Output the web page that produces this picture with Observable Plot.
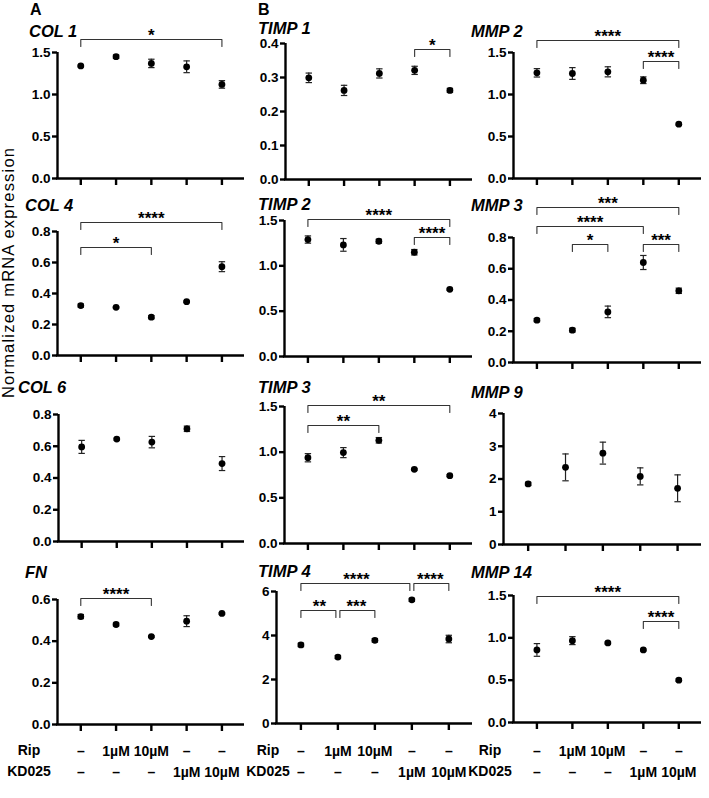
<!DOCTYPE html>
<html>
<head>
<meta charset="utf-8">
<script src="https://cdn.jsdelivr.net/npm/d3@7"></script>
<script src="https://cdn.jsdelivr.net/npm/@observablehq/plot@0.6"></script>
<style>
  html, body { margin: 0; padding: 0; background: #fff; }
  #fig { position: relative; width: 709px; height: 798px; background: #fff; overflow: hidden; }
  #fig svg { position: absolute; overflow: visible; }
  #fig svg.panel text { font-weight: bold; fill: #000; }
</style>
</head>
<body>
<div id="fig"></div>
<script>
// ---------------- DATA ----------------
const conditions = ["Vehicle", "Rip 1µM", "Rip 10µM", "KD025 1µM", "KD025 10µM"];
const ripLabels = ["–", "1µM", "10µM", "–", "–"];
const kdLabels  = ["–", "–", "–", "1µM", "10µM"];

const meanCOL1 = [1.34, 1.45, 1.37, 1.33, 1.12];
const errCOL1  = [0.01, 0.02, 0.05, 0.07, 0.045];
const ticksCOL1 = ["0.0", "0.5", "1.0", "1.5"];
const sigCOL1 = [[0, 4, "*"]];

const meanCOL4 = [0.322, 0.311, 0.247, 0.347, 0.573];
const errCOL4  = [0.01, 0.005, 0.01, 0.005, 0.032];
const ticksCOL4 = ["0.0", "0.2", "0.4", "0.6", "0.8"];
const sigCOL4 = [[0, 4, "****"], [0, 2, "*"]];

const meanCOL6 = [0.596, 0.645, 0.626, 0.71, 0.491];
const errCOL6  = [0.041, 0.006, 0.036, 0.017, 0.044];
const ticksCOL6 = ["0.0", "0.2", "0.4", "0.6", "0.8"];
const sigCOL6 = [];

const meanFN = [0.518, 0.48, 0.422, 0.496, 0.533];
const errFN  = [0.01, 0.007, 0.004, 0.026, 0.004];
const ticksFN = ["0.0", "0.2", "0.4", "0.6"];
const sigFN = [[0, 2, "****"]];

const meanTIMP1 = [0.299, 0.262, 0.312, 0.321, 0.262];
const errTIMP1  = [0.014, 0.015, 0.0135, 0.012, 0.006];
const ticksTIMP1 = ["0.0", "0.1", "0.2", "0.3", "0.4"];
const sigTIMP1 = [[3, 4, "*"]];

const meanTIMP2 = [1.29, 1.231, 1.271, 1.15, 0.741];
const errTIMP2  = [0.04, 0.07, 0.022, 0.03, 0.012];
const ticksTIMP2 = ["0.0", "0.5", "1.0", "1.5"];
const sigTIMP2 = [[0, 4, "****"], [3, 4, "****"]];

const meanTIMP3 = [0.939, 0.995, 1.13, 0.812, 0.743];
const errTIMP3  = [0.045, 0.055, 0.03, 0.01, 0.01];
const ticksTIMP3 = ["0.0", "0.5", "1.0", "1.5"];
const sigTIMP3 = [[0, 4, "**"], [0, 2, "**"]];

const meanTIMP4 = [3.57, 3.02, 3.78, 5.62, 3.84];
const errTIMP4  = [0.08, 0.07, 0.08, 0.07, 0.17];
const ticksTIMP4 = ["0", "2", "4", "6"];
const sigTIMP4 = [[0, 3, "****"], [3, 4, "****"], [0, 1, "**"], [1, 2, "***"]];

const meanMMP2 = [1.258, 1.25, 1.27, 1.17, 0.647];
const errMMP2  = [0.05, 0.07, 0.06, 0.04, 0.012];
const ticksMMP2 = ["0.0", "0.5", "1.0", "1.5"];
const sigMMP2 = [[0, 4, "****"], [3, 4, "****"]];

const meanMMP3 = [0.271, 0.207, 0.324, 0.64, 0.459];
const errMMP3  = [0.01, 0.012, 0.037, 0.045, 0.017];
const ticksMMP3 = ["0.0", "0.2", "0.4", "0.6", "0.8"];
const sigMMP3 = [[0, 4, "***"], [0, 3, "****"], [1, 2, "*"], [3, 4, "***"]];

const meanMMP9 = [1.85, 2.355, 2.79, 2.08, 1.716];
const errMMP9  = [0.05, 0.41, 0.335, 0.26, 0.41];
const ticksMMP9 = ["0", "1", "2", "3", "4"];
const sigMMP9 = [];

const meanMMP14 = [0.857, 0.967, 0.94, 0.857, 0.5];
const errMMP14  = [0.075, 0.047, 0.012, 0.01, 0.015];
const ticksMMP14 = ["0.0", "0.5", "1.0", "1.5"];
const sigMMP14 = [[0, 4, "****"], [3, 4, "****"]];

// ---------------- LAYOUT ----------------
const FONT = "'Liberation Sans', Arial, Helvetica, sans-serif";
const XMIN = -0.66, XMAX = 4.64;
const colRight = [244, 472, 701];
const ripBaseline = 755, kdBaseline = 776;

const panels = [
  {gene: "COL 1",  mean: meanCOL1,  err: errCOL1,  ticks: ticksCOL1,  sig: sigCOL1,  col: 0, ax: 57,  top: 52,  bottom: 178, title: [29, 37],  br: [39], bottomRow: false},
  {gene: "TIMP 1", mean: meanTIMP1, err: errTIMP1, ticks: ticksTIMP1, sig: sigTIMP1, col: 1, ax: 285, top: 43,  bottom: 179, title: [258, 34], br: [49], bottomRow: false},
  {gene: "MMP 2",  mean: meanMMP2,  err: errMMP2,  ticks: ticksMMP2,  sig: sigMMP2,  col: 2, ax: 513, top: 52,  bottom: 178, title: [471, 37], br: [40, 61], bottomRow: false},
  {gene: "COL 4",  mean: meanCOL4,  err: errCOL4,  ticks: ticksCOL4,  sig: sigCOL4,  col: 0, ax: 57,  top: 231, bottom: 355, title: [25, 211], br: [222, 247], bottomRow: false},
  {gene: "TIMP 2", mean: meanTIMP2, err: errTIMP2, ticks: ticksTIMP2, sig: sigTIMP2, col: 1, ax: 284, top: 220, bottom: 356, title: [258, 210], br: [219, 237], bottomRow: false},
  {gene: "MMP 3",  mean: meanMMP3,  err: errMMP3,  ticks: ticksMMP3,  sig: sigMMP3,  col: 2, ax: 513, top: 237, bottom: 362, title: [471, 211], br: [207, 226, 244, 244], bottomRow: false},
  {gene: "COL 6",  mean: meanCOL6,  err: errCOL6,  ticks: ticksCOL6,  sig: sigCOL6,  col: 0, ax: 58,  top: 414, bottom: 541, title: [18, 393], br: [], bottomRow: false},
  {gene: "TIMP 3", mean: meanTIMP3, err: errTIMP3, ticks: ticksTIMP3, sig: sigTIMP3, col: 1, ax: 284, top: 406, bottom: 543, title: [258, 393], br: [405, 425], bottomRow: false},
  {gene: "MMP 9",  mean: meanMMP9,  err: errMMP9,  ticks: ticksMMP9,  sig: sigMMP9,  col: 2, ax: 503, top: 413, bottom: 544, title: [471, 398], br: [], bottomRow: false},
  {gene: "FN",     mean: meanFN,    err: errFN,    ticks: ticksFN,    sig: sigFN,    col: 0, ax: 57,  top: 599, bottom: 724, title: [25, 578], br: [598], bottomRow: true},
  {gene: "TIMP 4", mean: meanTIMP4, err: errTIMP4, ticks: ticksTIMP4, sig: sigTIMP4, col: 1, ax: 276, top: 591, bottom: 723, title: [258, 577], br: [583, 583, 610, 610], bottomRow: true},
  {gene: "MMP 14", mean: meanMMP14, err: errMMP14, ticks: ticksMMP14, sig: sigMMP14, col: 2, ax: 513, top: 595, bottom: 722, title: [471, 578], br: [596, 621], bottomRow: true}
];

const capSymbol = {
  draw(ctx, size) {
    const r = Math.sqrt(size / Math.PI);
    ctx.moveTo(-r, 0);
    ctx.lineTo(r, 0);
  }
};

const fig = document.getElementById("fig");

function makePanel(p) {
  const R = colRight[p.col];
  const mL = 45, mT = 45, mR = 8, mB = p.bottomRow ? 62 : 14;
  const h = p.bottom - p.top;
  const width = mL + (R - p.ax) + mR;
  const height = mT + h + mB;
  const tickVals = p.ticks.map(Number);
  const ymax = tickVals[tickVals.length - 1];
  const rows = conditions.map((c, i) => ({i, m: p.mean[i], e: p.err[i]}));
  const step = (R - p.ax) / (XMAX - XMIN);
  const pxToY = px => ymax * (p.bottom - px) / h;

  const bracketPts = [];
  const bracketLabels = [];
  p.sig.forEach(([a, b, label], k) => {
    const by = p.br[k];
    let insA = 0, insB = 0;
    p.sig.forEach(([a2, b2], k2) => {
      if (k2 === k || p.br[k2] !== by) return;
      if (a2 === b) insB = 2 / step;
      if (b2 === a) insA = 2 / step;
    });
    const yb = pxToY(by), yt = pxToY(by + 7);
    bracketPts.push({k, x: a + insA, y: yt}, {k, x: a + insA, y: yb}, {k, x: b - insB, y: yb}, {k, x: b - insB, y: yt});
    bracketLabels.push({x: (a + b) / 2, y: yb, label});
  });

  const marks = [
    Plot.ruleX([XMIN], {y1: 0, y2: ymax, stroke: "#000", strokeWidth: 2.4}),
    Plot.ruleY([0], {x1: XMIN - 0.03, x2: XMAX, stroke: "#000", strokeWidth: 2.4}),
    Plot.axisY(tickVals, {tickFormat: d => p.ticks[tickVals.indexOf(d)], tickSize: 5, tickPadding: 2, strokeWidth: 2.4, label: null, fontSize: 13.5, fontWeight: "bold"}),
    Plot.axisX([0, 1, 2, 3, 4], {tickFormat: () => "", tickSize: 7, strokeWidth: 2.4, label: null}),
    Plot.ruleX(rows, {x: "i", y1: d => d.m - d.e, y2: d => d.m + d.e, stroke: "#222", strokeWidth: 1.2}),
    Plot.dot(rows, {x: "i", y: d => d.m + d.e, symbol: capSymbol, r: 3.2, stroke: "#222", fill: "none", strokeWidth: 1.2}),
    Plot.dot(rows, {x: "i", y: d => d.m - d.e, symbol: capSymbol, r: 3.2, stroke: "#222", fill: "none", strokeWidth: 1.2}),
    Plot.dot(rows, {x: "i", y: "m", r: 3.4, fill: "#000", stroke: "none"}),
    Plot.line(bracketPts, {x: "x", y: "y", z: "k", stroke: "#333", strokeWidth: 1.1}),
    Plot.text(bracketLabels, {x: "x", y: "y", text: "label", lineAnchor: "bottom", dy: 1, fontSize: 17, fontWeight: "bold", fill: "#000"})
  ];
  if (p.bottomRow) {
    marks.push(
      Plot.text(rows, {x: "i", text: d => ripLabels[d.i], frameAnchor: "bottom", lineAnchor: "bottom", dy: ripBaseline - p.bottom, fontSize: 14, fontWeight: "bold", fill: "#000"}),
      Plot.text(rows, {x: "i", text: d => kdLabels[d.i], frameAnchor: "bottom", lineAnchor: "bottom", dy: kdBaseline - p.bottom, fontSize: 14, fontWeight: "bold", fill: "#000"})
    );
  }

  const svg = Plot.plot({
    width, height,
    marginLeft: mL, marginTop: mT, marginRight: mR, marginBottom: mB,
    x: {type: "linear", domain: [XMIN, XMAX], axis: null},
    y: {type: "linear", domain: [0, ymax], axis: null},
    style: {fontFamily: FONT, fontSize: "13.5px", fontWeight: "bold", color: "#000", background: "transparent", overflow: "visible"},
    marks
  });
  svg.classList.add("panel");
  svg.style.left = (p.ax - mL) + "px";
  svg.style.top = (p.top - mT) + "px";
  fig.appendChild(svg);
}

panels.forEach(makePanel);

// ---------------- TEXT OVERLAY ----------------
const overlay = d3.select(fig).append("svg")
  .attr("width", 709).attr("height", 798)
  .style("left", "0px").style("top", "0px").style("pointer-events", "none")
  .style("font-family", FONT);

overlay.selectAll("text.title").data(panels).join("text")
  .attr("class", "title")
  .attr("x", d => d.title[0]).attr("y", d => d.title[1])
  .attr("font-size", 16.5).attr("font-weight", "bold").attr("font-style", "italic")
  .text(d => d.gene);

const letters = [["A", 30], ["B", 258]];
overlay.selectAll("text.letter").data(letters).join("text")
  .attr("class", "letter")
  .attr("x", d => d[1]).attr("y", 15)
  .attr("font-size", 16).attr("font-weight", "bold")
  .text(d => d[0]);

const rowLabelCenters = [29, 268, 490];
rowLabelCenters.forEach(cx => {
  overlay.append("text").attr("x", cx).attr("y", ripBaseline).attr("text-anchor", "middle")
    .attr("font-size", 14).attr("font-weight", "bold").text("Rip");
  overlay.append("text").attr("x", cx).attr("y", kdBaseline).attr("text-anchor", "middle")
    .attr("font-size", 14).attr("font-weight", "bold").text("KD025");
});

overlay.append("text")
  .attr("transform", "translate(14,273) rotate(-90)")
  .attr("text-anchor", "middle")
  .attr("font-size", 16.5)
  .style("font-weight", "500")
  .attr("textLength", 250).attr("lengthAdjust", "spacing")
  .text("Normalized  mRNA  expression");
</script>
</body>
</html>
